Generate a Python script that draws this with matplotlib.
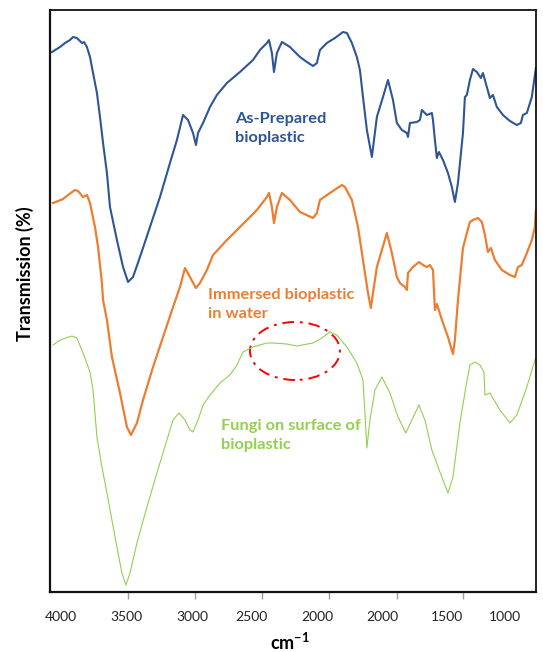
import matplotlib
matplotlib.use("Agg")
import matplotlib.pyplot as plt
from matplotlib.patches import Ellipse
from matplotlib.ticker import FixedLocator, NullFormatter

plt.rcParams['font.family'] = ['Lato', 'DejaVu Sans']
plt.rcParams['mathtext.fontset'] = 'custom'
plt.rcParams['mathtext.rm'] = 'Lato'
plt.rcParams['mathtext.bf'] = 'Lato:bold'

# ---- data (nominal wavenumber on the displayed scale, transmission in a.u.) ----
as_prepared_x = [3986, 3928, 3892, 3856, 3834, 3806, 3770, 3755, 3734, 3712, 3690, 3662, 3640,
                 3618, 3590, 3568, 3518, 3474, 3438, 3402, 3352, 3280, 3208, 3136, 3086, 3042,
                 3006, 2970, 2949, 2934, 2898, 2848, 2798, 2726, 2632, 2538, 2488, 2438, 2423,
                 2402, 2387, 2366, 2330, 2294, 2272, 2200, 2150, 2106, 2078, 2056, 2006, 1948,
                 1890, 1862, 1826, 1790, 1768, 1746, 1718, 1682, 1646, 1602, 1566, 1530, 1502,
                 1466, 1430, 1422, 1408, 1358, 1336, 1322, 1286, 1250, 1242, 1228, 1214, 1199,
                 1170, 1134, 1106, 1084, 1062, 1026, 1012, 998, 976, 954, 926, 897, 882, 854,
                 832, 810, 782, 738, 688, 638, 609, 594, 566, 530, 501]
as_prepared_y = [54.0, 54.5, 54.9, 55.2, 55.5, 55.4, 54.9, 55.0, 54.5, 53.5, 51.9, 49.9, 47.5,
                 44.9, 41.9, 38.5, 35.2, 32.5, 31.0, 31.5, 33.5, 36.5, 39.5, 42.9, 45.2, 47.7,
                 47.2, 45.9, 44.7, 45.9, 46.9, 48.5, 49.7, 50.9, 52.0, 53.2, 54.2, 54.9, 55.2,
                 53.9, 52.0, 53.9, 55.0, 54.7, 54.5, 53.5, 53.0, 52.6, 52.9, 54.2, 54.9, 55.4,
                 56.0, 55.9, 54.9, 53.5, 52.2, 49.5, 46.2, 43.5, 47.5, 49.5, 51.2, 49.2, 46.9,
                 46.2, 45.9, 45.5, 46.9, 47.0, 47.2, 48.2, 47.7, 47.9, 47.2, 45.2, 43.4, 44.0,
                 43.2, 41.9, 40.5, 39.0, 40.9, 45.9, 49.5, 49.7, 51.2, 52.3, 52.0, 51.4, 51.9,
                 50.5, 49.4, 49.7, 48.5, 47.7, 47.1, 46.7, 46.9, 47.7, 47.9, 49.5, 52.4]

immersed_x = [3978, 3906, 3870, 3820, 3798, 3762, 3734, 3712, 3676, 3654, 3626, 3618, 3590,
              3554, 3496, 3446, 3417, 3374, 3330, 3258, 3186, 3114, 3064, 3028, 2992, 2949,
              2920, 2870, 2826, 2726, 2632, 2510, 2438, 2423, 2402, 2387, 2366, 2330, 2272,
              2200, 2106, 2078, 2056, 1984, 1898, 1876, 1826, 1782, 1746, 1710, 1689, 1674,
              1646, 1610, 1574, 1538, 1502, 1480, 1444, 1430, 1422, 1386, 1343, 1314, 1286,
              1264, 1242, 1235, 1228, 1214, 1170, 1134, 1098, 1084, 1062, 1026, 998, 976,
              954, 918, 890, 868, 846, 825, 796, 746, 688, 652, 630, 602, 566, 530, 508, 501]
immersed_y = [38.9, 39.3, 39.7, 40.2, 40.1, 39.5, 39.7, 38.9, 36.5, 34.5, 30.9, 29.2, 27.2,
              23.5, 19.9, 16.5, 15.7, 16.9, 19.2, 22.5, 25.5, 28.5, 30.5, 32.4, 31.5, 30.4,
              30.9, 32.2, 33.7, 35.2, 36.5, 38.2, 39.5, 39.9, 38.5, 36.9, 38.5, 39.9, 39.2,
              38.0, 37.4, 37.9, 39.2, 39.9, 40.7, 40.5, 39.2, 36.5, 33.2, 29.9, 28.4, 29.9,
              32.5, 34.2, 35.9, 33.9, 31.5, 30.9, 30.5, 30.2, 31.9, 32.5, 33.0, 32.7, 32.5,
              32.7, 32.2, 30.2, 28.2, 28.8, 26.9, 25.5, 23.8, 25.2, 29.2, 34.4, 35.9, 37.0,
              37.2, 37.4, 37.0, 35.7, 34.0, 34.4, 33.2, 32.2, 31.7, 31.5, 32.5, 32.7, 33.9,
              35.2, 36.5, 38.2]

fungi_x = [3978, 3928, 3842, 3806, 3762, 3712, 3690, 3662, 3626, 3590, 3554, 3518, 3482,
           3453, 3424, 3374, 3302, 3230, 3158, 3114, 3071, 3028, 2992, 2970, 2934, 2898,
           2848, 2776, 2704, 2654, 2610, 2538, 2438, 2394, 2294, 2222, 2106, 2042, 1984,
           1934, 1862, 1790, 1746, 1732, 1718, 1696, 1660, 1610, 1552, 1494, 1437, 1394,
           1343, 1300, 1250, 1192, 1134, 1098, 1048, 1005, 976, 940, 904, 875, 868, 832,
           760, 688, 638, 566, 501]
fungi_y = [24.7, 25.2, 25.6, 25.4, 23.9, 22.0, 20.2, 15.5, 12.5, 9.9, 7.2, 4.5, 1.9,
           0.7, 1.9, 4.9, 8.5, 11.9, 15.2, 17.2, 17.9, 17.2, 16.2, 16.0, 17.2, 18.7,
           19.7, 20.9, 21.7, 22.7, 24.0, 24.5, 24.9, 24.9, 24.8, 24.6, 24.9, 25.4, 26.0,
           25.7, 24.5, 22.9, 21.2, 17.9, 14.4, 17.2, 20.2, 21.5, 19.9, 17.5, 15.9, 17.2,
           18.7, 17.2, 14.2, 12.0, 9.9, 11.5, 16.9, 20.5, 22.7, 23.0, 22.7, 22.0, 19.7, 19.9,
           18.2, 16.9, 17.7, 20.5, 23.5]

tick_label_pos = [3921, 3446, 2978, 2553, 2078, 1610, 1142, 724]
tick_labels = ["4000", "3500", "3000", "2500", "2000", "2000", "1500", "1000"]
tick_mark_pos = [3438, 2956, 2474, 1991, 1502, 1026]

series_names = ["As-Prepared\nbioplastic", "Immersed bioplastic\nin water",
                "Fungi on surface of\nbioplastic"]
label_anchor_x = [2668, 2862, 2769]
label_anchor_y = [45.0, 27.4, 14.3]   # baseline of the last line
colors = ["#2E5596", "#ED7D31", "#92D050"]

highlight_center = (2236, 24.1)
highlight_size = (648, 5.8)

# ---- figure ----
fig = plt.figure(figsize=(5.43, 6.52), dpi=100)
ax = fig.add_axes([50 / 543, 1 - 592 / 652, 486 / 543, 582 / 652])

ax.plot(as_prepared_x, as_prepared_y, color=colors[0], lw=1.5, solid_joinstyle='round')
ax.plot(immersed_x, immersed_y, color=colors[1], lw=1.6, solid_joinstyle='round')
ax.plot(fungi_x, fungi_y, color=colors[2], lw=0.8, solid_joinstyle='round')

for name, lx, ly, c in zip(series_names, label_anchor_x, label_anchor_y, colors):
    ax.text(lx, ly, name, color=c, fontsize=11.8, fontweight='bold',
            ha='left', va='baseline', linespacing=1.45)

ax.add_patch(Ellipse(highlight_center, highlight_size[0], highlight_size[1],
                     fill=False, edgecolor='#FF0000', lw=1.4, linestyle=(0, (6, 3, 1.5, 3))))

ax.set_xlim(4000, 500)
ax.set_ylim(0, 58.2)
ax.set_yticks([])

ax.xaxis.set_major_locator(FixedLocator(tick_label_pos))
ax.set_xticklabels(tick_labels)
ax.xaxis.set_minor_locator(FixedLocator(tick_mark_pos))
ax.xaxis.set_minor_formatter(NullFormatter())
ax.tick_params(axis='x', which='major', length=0, pad=14, labelsize=10, labelcolor='#222222')
ax.tick_params(axis='x', which='minor', length=5, width=1.0, color='#A0A0A0', direction='out')

for side in ['left', 'bottom']:
    ax.spines[side].set_linewidth(1.6)
    ax.spines[side].set_color('#111111')
for side in ['top', 'right']:
    ax.spines[side].set_linewidth(1.3)
    ax.spines[side].set_color('#111111')

fig.text(290 / 543, 1 - 650 / 652, r'$\mathbf{cm^{-1}}$', ha='center', va='baseline',
         fontsize=13)
fig.text(24.5 / 543, 1 - 274 / 652, 'Transmission (%)', rotation=90, ha='center',
         va='center', fontsize=13, fontweight='bold')

fig.savefig('out.png', dpi=100)
